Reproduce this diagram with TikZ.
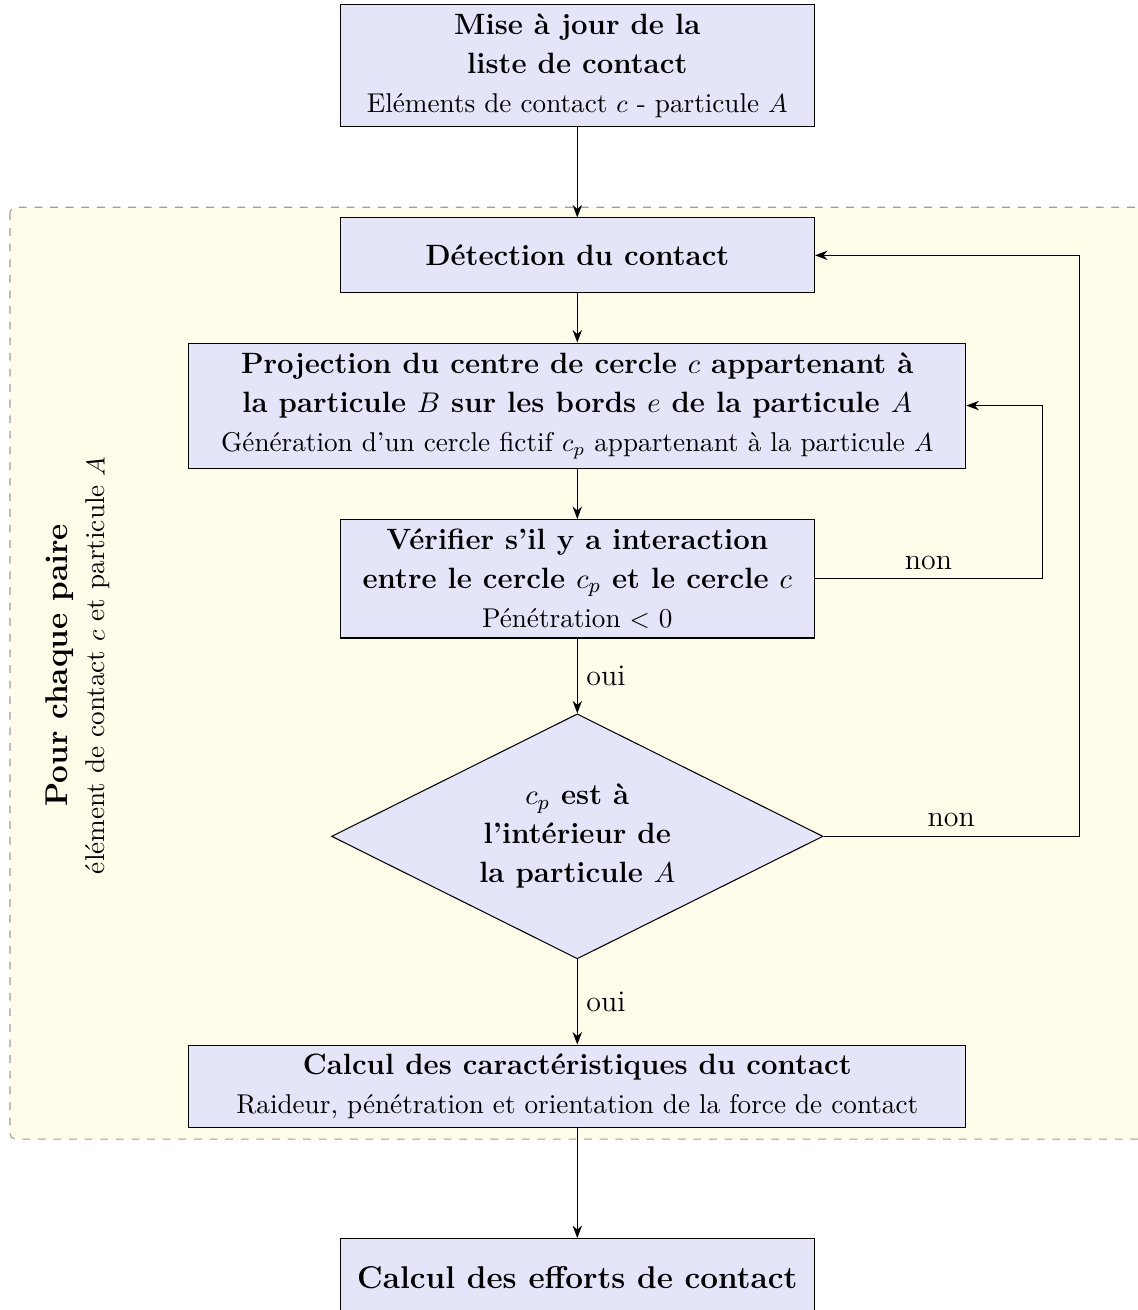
\documentclass[tikz,border=0pt]{standalone}
\usepackage{amsmath, amssymb}
\usetikzlibrary{positioning, calc, arrows.meta, shapes.geometric}
\definecolor{Boite}{HTML}{E5E5FA}
\definecolor{Fond}{HTML}{FFFCE9}
\definecolor{Bord}{HTML}{9E9E9E}
\newcommand{\policegras}{\fontsize{11.3}{15}\selectfont\bfseries}
\newcommand{\policetitre}{\fontsize{12.1}{15}\selectfont\bfseries}
\newcommand{\sousligne}[1]{{\normalfont\fontsize{10.45}{13}\selectfont #1}}
\tikzset{
    etape/.style={rectangle, draw=black, fill=Boite, align=center, font=\policegras, minimum width=6.41cm, inner sep=3pt},
    etapelarge/.style={etape, minimum width=10.5cm},
    choix/.style={diamond, draw=black, fill=Boite, align=center, font=\policegras, aspect=2, minimum width=6.64cm, minimum height=3.31cm, inner sep=0pt},
    fleche/.style={-Stealth, thin, color=black},
    fond/.style={rectangle, rounded corners=2pt, draw=Bord, dashed, fill=Fond},
    legende/.style={font=\fontsize{11.5}{14}\selectfont},
}

\begin{document}
\begin{tikzpicture}
    \useasboundingbox (0,0) rectangle (15.365,-17.70);
    % Zone de la boucle
    \draw[fond] (0.135,-2.80) rectangle (16.0,-15.39);
    \node[rotate=90, font=\policetitre] (titre) at (0.81,-8.99) {Pour chaque paire};
    \node[rotate=90, font=\fontsize{10.45}{13}\selectfont] (soustitre) at (1.32,-8.99) {élément de contact $c$ et particule $A$};

    % Etapes
    \node[etape, minimum height=1.65cm] (maj) at (7.80,-0.89)
        {Mise à jour de la\\ liste de contact\\ \sousligne{Eléments de contact $c$ - particule $A$}};
    \node[etape, minimum height=1.01cm] (detect) at (7.80,-3.45) {Détection du contact};
    \node[etapelarge, minimum height=1.69cm] (proj) at (7.80,-5.48)
        {Projection du centre de cercle $c$ appartenant à\\ la particule $B$ sur les bords $e$ de la particule $A$\\
        \sousligne{Génération d'un cercle fictif $c_p$ appartenant à la particule $A$}};
    \node[etape, minimum height=1.60cm] (verif) at (7.80,-7.82)
        {Vérifier s'il y a interaction\\ entre le cercle $c_p$ et le cercle $c$\\ \sousligne{Pénétration $<$ 0}};
    \node[choix] (interieur) at (7.80,-11.30)
        {$c_p$ est à\\ l'intérieur de\\ la particule $A$};
    \node[etapelarge, minimum height=1.12cm] (carac) at (7.80,-14.68)
        {Calcul des caractéristiques du contact\\
        \sousligne{Raideur, pénétration et orientation de la force de contact}};
    \node[etape, font=\policetitre, minimum height=1.05cm] (efforts) at (7.80,-17.26) {Calcul des efforts de contact};

    % Retours
    \coordinate (retourA) at (14.08,-7.82);
    \coordinate (retourB) at (14.58,-11.30);

    % Fleches
    \draw[fleche] (maj) -- (detect);
    \draw[fleche] (detect) -- (proj);
    \draw[fleche] (proj) -- (verif);
    \draw[fleche] (verif) -- node[legende, right] {oui} (interieur);
    \draw[fleche] (interieur) -- node[legende, right] {oui} (carac);
    \draw[fleche] (carac) -- (efforts);
    \draw[fleche] (verif.east) -- node[legende, above] {non} (retourA) |- (proj.east);
    \draw[fleche] (interieur.east) -- node[legende, above] {non} (retourB) |- (detect.east);
\end{tikzpicture}
\end{document}
